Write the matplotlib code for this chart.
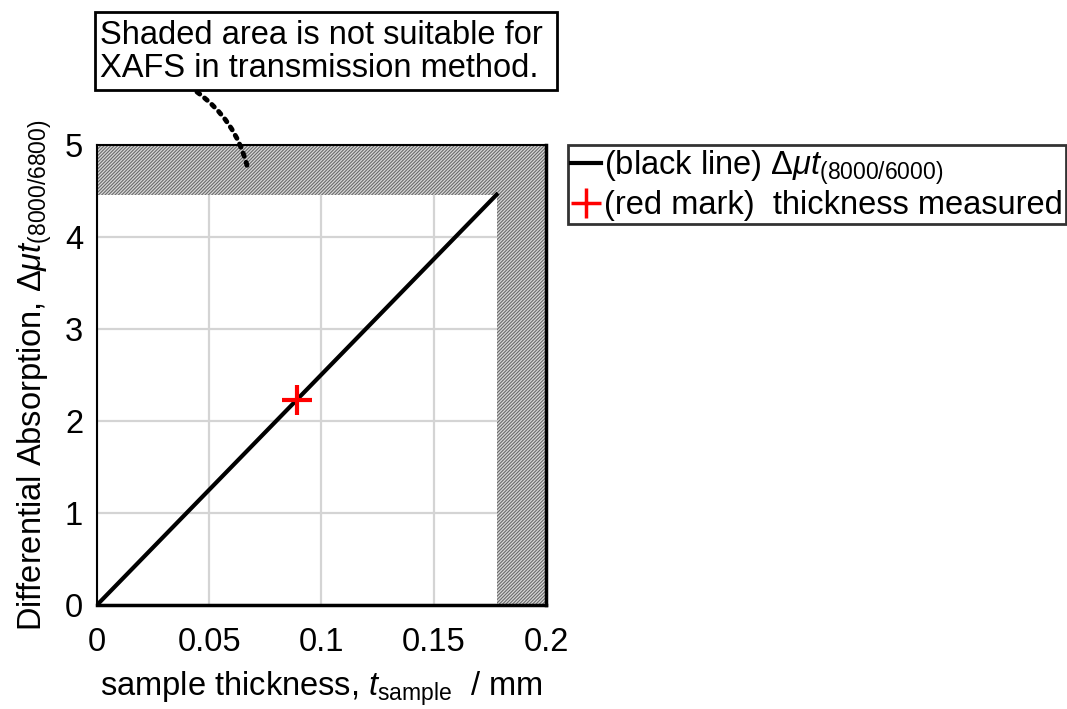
import matplotlib
matplotlib.use("Agg")
import matplotlib.pyplot as plt
from matplotlib.lines import Line2D
from matplotlib.patches import Rectangle

plt.rcParams['font.family'] = ['Liberation Sans', 'DejaVu Sans']
plt.rcParams['mathtext.fontset'] = 'custom'
plt.rcParams['mathtext.rm'] = 'Liberation Sans'
plt.rcParams['mathtext.it'] = 'Liberation Sans:italic'
plt.rcParams['mathtext.bf'] = 'Liberation Sans:bold'
plt.rcParams['hatch.linewidth'] = 0.8

# Differential absorption vs. sample thickness
thickness = [0.0, 0.178]          # mm
delta_mut = [0.0, 4.46]           # Δμt(8000/6800)
measured_t = [0.089]              # mm
measured_dmut = [2.23]
limit_t = 0.178                   # thickness above which transmission XAFS is unsuitable
limit_dmut = 4.46                 # Δμt above which transmission XAFS is unsuitable
x_ticks = [0, 0.05, 0.1, 0.15, 0.2]
x_tick_labels = ['0', '0.05', '0.1', '0.15', '0.2']
y_ticks = [0, 1, 2, 3, 4, 5]

FS = 23.5
W, H = 1067, 709

fig = plt.figure(figsize=(W / 100, H / 100), dpi=100)
ax = fig.add_axes([0.0909, 0.1467, 0.4208, 0.6488])
ax.set_xlim(0, 0.2)
ax.set_ylim(0, 5)

# unsuitable region (hatched)
hatch_kw = dict(facecolor='#d8d8d8', edgecolor='#6a6a6a', hatch='//////////', linewidth=0, zorder=1)
ax.axhspan(limit_dmut, 5, **hatch_kw)
ax.axvspan(limit_t, 0.2, **hatch_kw)

ax.grid(True, color='#d4d4d4', linewidth=1.6, zorder=0)
ax.set_axisbelow(True)

ax.plot(thickness, delta_mut, color='black', linewidth=3, zorder=3)
ax.plot(measured_t, measured_dmut, linestyle='none', marker='+', color='red',
        markersize=22, markeredgewidth=3, zorder=4)

ax.set_xticks(x_ticks)
ax.set_xticklabels(x_tick_labels)
ax.set_yticks(y_ticks)
ax.tick_params(length=0, labelsize=FS)
ax.tick_params(axis='x', pad=16)
ax.tick_params(axis='y', pad=10)
for side in ax.spines.values():
    side.set_color('black')
    side.set_linewidth(1.5)
ax.spines['bottom'].set_linewidth(2.5)
ax.spines['right'].set_linewidth(2.5)

ax.set_xlabel(r'sample thickness, $t_{\mathrm{sample}}$  / mm', fontsize=FS, labelpad=8)
ax.set_ylabel(r'Differential Absorption, $\Delta\mu t_{\mathrm{(8000/6800)}}$', fontsize=FS, labelpad=8)

# note on the hatched region
fig.patches.append(Rectangle((95 / W, 1 - 90 / H), (557 - 95) / W, (90 - 12) / H,
                             transform=fig.transFigure, facecolor='white',
                             edgecolor='black', linewidth=2, zorder=5))
fig.text(100 / W, 1 - 52 / H,
         'Shaded area is not suitable for\nXAFS in transmission method.',
         fontsize=FS, ha='left', va='center', linespacing=1.1, zorder=6)
ax.annotate('', xy=(0.0668, 4.78), xycoords='data',
            xytext=(197 / W, 1 - 92 / H), textcoords='figure fraction',
            arrowprops=dict(arrowstyle='-', linestyle=(0, (0.7, 1.3)), linewidth=3.5,
                            color='black', connectionstyle='arc3,rad=-0.18',
                            shrinkA=0, shrinkB=0))

handles = [Line2D([], [], color='black', linewidth=3),
           Line2D([], [], color='red', linestyle='none', marker='+', markersize=22,
                  markeredgewidth=2.5)]
labels = [r'(black line) $\Delta\mu t_{\mathrm{(8000/6000)}}$', '(red mark)  thickness measured']
leg = fig.legend(handles, labels, loc='upper left', bbox_to_anchor=(568 / W, 1 - 145 / H),
                 fontsize=FS, frameon=True, fancybox=False, handlelength=0.9,
                 handletextpad=0.1, borderpad=0.1, borderaxespad=0, labelspacing=0.1)
leg.get_frame().set_edgecolor('black')
leg.get_frame().set_linewidth(2)

fig.savefig('out.png', dpi=100)
